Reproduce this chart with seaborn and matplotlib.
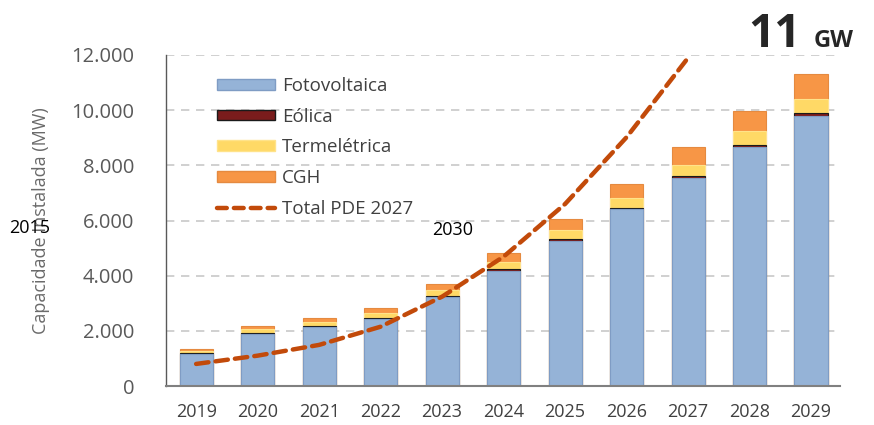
import numpy as np
import pandas as pd
import matplotlib
matplotlib.use("Agg")
import matplotlib.pyplot as plt
import seaborn as sns
from matplotlib.patches import Patch
from matplotlib.lines import Line2D

# dados (MW)
anos = ["2019", "2020", "2021", "2022", "2023", "2024", "2025", "2026", "2027", "2028", "2029"]
fotovoltaica = [1160, 1875, 2130, 2420, 3230, 4180, 5270, 6400, 7540, 8665, 9790]
eolica = [30, 30, 40, 40, 50, 60, 70, 70, 70, 75, 120]
termeletrica = [80, 145, 150, 170, 200, 240, 310, 340, 400, 505, 510]
cgh = [70, 115, 140, 180, 230, 330, 390, 520, 640, 735, 890]

anos_pde = ["2019", "2020", "2021", "2022", "2023", "2024", "2025", "2026", "2027"]
total_pde = [800, 1100, 1490, 2150, 3240, 4690, 6600, 9020, 11900]

cores = {
    "Fotovoltaica": "#95B3D7",
    "Eólica": "#7A1C1C",
    "Termelétrica": "#FFD966",
    "CGH": "#F79646",
}
bordas = {
    "Fotovoltaica": "#7F9CC4",
    "Eólica": "#1a1a1a",
    "Termelétrica": "#FFE38A",
    "CGH": "#E58A40",
}
cor_linha = "#C24A0A"

df = pd.DataFrame({
    "ano": anos,
    "Fotovoltaica": fotovoltaica,
    "Eólica": eolica,
    "Termelétrica": termeletrica,
    "CGH": cgh,
})
fontes = ["Fotovoltaica", "Eólica", "Termelétrica", "CGH"]
acumulado = df[fontes].cumsum(axis=1)

sns.set_style("white")
plt.rcParams["font.family"] = ["Open Sans", "DejaVu Sans"]

fig = plt.figure(figsize=(8.74, 4.25), dpi=100)
ax = fig.add_axes([166 / 874, 1 - 386 / 425, (840 - 166) / 874, (386 - 55) / 425])

# barras empilhadas: desenha do topo para a base
for fonte in reversed(fontes):
    sns.barplot(x=df["ano"], y=acumulado[fonte], color=cores[fonte], width=0.54,
                edgecolor=bordas[fonte], linewidth=0.8, saturation=1, ax=ax, zorder=2)

sns.lineplot(x=np.arange(len(anos_pde)), y=total_pde, color=cor_linha, linewidth=3.2,
             dashes=False, linestyle=(0, (2.8, 1.6)), solid_capstyle="round",
             dash_capstyle="round", ax=ax, zorder=3)

ax.set_ylim(0, 12000)
ax.set_xlim(-0.49, 10.47)
ax.set_yticks(range(0, 12001, 2000))
ax.set_yticklabels([f"{v:,}".replace(",", ".") for v in range(0, 12001, 2000)])
ax.yaxis.grid(True, linestyle=(0, (5, 4)), color="#c8c8c8", linewidth=1.2, zorder=0)
ax.set_axisbelow(True)
ax.tick_params(axis="y", labelsize=14.5, colors="#595959", length=0, pad=23)
ax.tick_params(axis="x", labelsize=13, colors="#404040", length=0, pad=12)
ax.set_xlabel("")
ax.set_ylabel("Capacidade Instalada (MW)", fontsize=13, color="#6a6a6a")
ax.yaxis.set_label_coords(-0.172, 0.5)

for lado in ["top", "right"]:
    ax.spines[lado].set_visible(False)
ax.spines["left"].set_color("#595959")
ax.spines["left"].set_linewidth(1.0)
ax.spines["bottom"].set_color("#808080")
ax.spines["bottom"].set_linewidth(1.5)

handles = [Patch(facecolor=cores[f], edgecolor=bordas[f], linewidth=1) for f in fontes]
handles.append(Line2D([0], [0], color=cor_linha, linewidth=3.2, linestyle=(0, (2.2, 1.6)),
                      dash_capstyle="round"))
ax.legend(handles, fontes + ["Total PDE 2027"], loc="upper left", frameon=False,
          fontsize=13.5, handlelength=3.1, handleheight=0.5, labelspacing=0.68,
          handletextpad=0.4, bbox_to_anchor=(0.05, 0.985), labelcolor="#404040")

fig.text(30 / 874, 1 - 228 / 425, "2015", fontsize=13, ha="center", va="center", color="black")
fig.text(453 / 874, 1 - 230 / 425, "2030", fontsize=13, ha="center", va="center", color="black")
fig.text(801 / 874, 1 - 47 / 425, "11", fontsize=33, fontweight="bold", ha="right",
         va="baseline", color="#262626")
fig.text(814 / 874, 1 - 47 / 425, "GW", fontsize=17, fontweight="bold", ha="left",
         va="baseline", color="#262626")

fig.savefig("out.png", dpi=100)
